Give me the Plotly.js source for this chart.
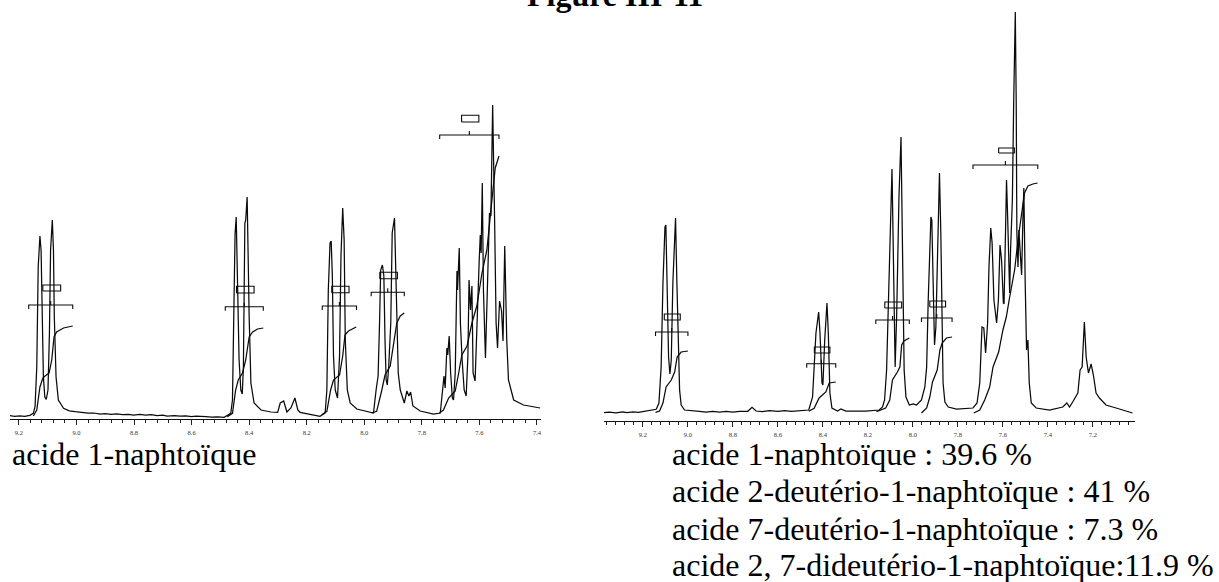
<!DOCTYPE html>
<html><head><meta charset="utf-8">
<script src="https://cdn.plot.ly/plotly-3.0.1.min.js"></script>
<style>html,body{margin:0;padding:0;background:#fff;overflow:hidden}#c{width:1219px;height:582px}</style>
</head><body><div id="c"></div>
<script>
// Left spectrum: chemical shift (ppm) and signal height
const leftShift=[9.231,9.215,9.197,9.180,9.162,9.150,9.144,9.138,9.133,9.127,9.123,9.119,9.115,9.110,9.105,9.099,9.094,9.090,9.084,9.080,9.077,9.071,9.063,9.045,9.025,9.005,8.98,8.96,8.94,8.917,8.90,8.88,8.86,8.84,8.82,8.801,8.78,8.76,8.74,8.72,8.70,8.685,8.66,8.64,8.62,8.60,8.585,8.569,8.55,8.53,8.51,8.487,8.464,8.458,8.452,8.449,8.445,8.441,8.435,8.429,8.424,8.420,8.415,8.412,8.407,8.400,8.394,8.383,8.359,8.324,8.301,8.292,8.280,8.269,8.255,8.241,8.231,8.223,8.188,8.154,8.136,8.130,8.125,8.119,8.115,8.111,8.107,8.101,8.093,8.086,8.081,8.075,8.070,8.066,8.059,8.049,8.026,7.991,7.968,7.959,7.952,7.947,7.943,7.937,7.932,7.928,7.924,7.920,7.915,7.908,7.903,7.895,7.892,7.887,7.882,7.875,7.861,7.852,7.845,7.839,7.831,7.806,7.759,7.736,7.729,7.723,7.719,7.713,7.710,7.705,7.700,7.694,7.690,7.684,7.678,7.676,7.670,7.666,7.660,7.653,7.646,7.640,7.636,7.631,7.626,7.622,7.615,7.609,7.604,7.601,7.597,7.594,7.590,7.586,7.579,7.572,7.565,7.560,7.554,7.547,7.542,7.537,7.530,7.523,7.518,7.512,7.505,7.499,7.481,7.447,7.389];
const leftSignal=[3.3,2.6,3,2.7,3.7,5.7,12.3,52,152,183,169,86,42,22,19.7,29,86,169,199,169,102,42,19,10.7,8.2,7.3,6.5,6,6,5,5.3,4.7,5,4.3,4.7,4,4.6,4,4.4,3.5,3.8,3,3.4,2.9,3.2,2.5,2.8,2.3,2.4,1.9,2.2,1.7,5.7,19,172,185,202,152,59,29,25,52,196,199,222,102,36,16,9,7,6.7,16,18,7,11,21,9,6.7,4.3,2.7,6,29,129,176,178,143,63,29,21,63,163,211,179,79,29,16,10,7.7,6,29,43,96,149,154,143,79,39,34,53,96,186,201,163,96,46,29,16,28,23,27,13,8,5,6,29,43,31,71,64,83,46,21,19,46,148,129,171,96,59,29,23,63,139,109,133,46,38,96,151,156,184,166,236,129,61,129,206,203,314,196,96,71,118,108,78,173,79,39,19,14,11];

// Left spectrum: integral curves
const leftIntegralShift=[
 [9.150,9.138,9.127,9.117,9.109,9.095,9.086,9.078,9.069,9.045,9.013],
 [8.476,8.458,8.447,8.438,8.423,8.412,8.400,8.388,8.371,8.351],
 [8.148,8.130,8.117,8.107,8.086,8.075,8.067,8.055,8.028],
 [7.974,7.957,7.939,7.928,7.910,7.899,7.887,7.875,7.861],
 [7.739,7.725,7.707,7.684,7.672,7.661,7.643,7.626,7.609,7.591,7.574,7.563,7.553,7.545,7.532]];
const leftIntegralValue=[
 [3,9,32,41,43,46,59,82,87,91,93],
 [2.3,5.7,29,39,46,59,82,87,90,91],
 [4.3,7.7,29,39,44,63,84,88,92],
 [6,7.7,29,44,53,76,96,103,106],
 [6,9,21,28,46,64,73,96,113,146,169,204,229,251,263]];

// Left spectrum: integral brackets and label boxes
const leftBracketFrom=[9.166,8.483,8.146,7.976,7.738];
const leftBracketTo=[9.013,8.351,8.027,7.861,7.532];
const leftBracketLevel=[114,112.3,113,126.7,284];
const leftBoxFrom=[9.117,8.444,8.113,7.946,7.662];
const leftBoxTo=[9.055,8.383,8.053,7.885,7.602];
const leftBoxLow=[128,126,126.3,140.3,297];
const leftBoxHigh=[134,132.7,132.7,146.7,303.7];

// Right spectrum: chemical shift (ppm) and signal height
const rightShift=[9.375,9.35,9.32,9.29,9.27,9.244,9.22,9.20,9.170,9.141,9.129,9.119,9.111,9.102,9.098,9.092,9.086,9.080,9.074,9.067,9.059,9.055,9.049,9.043,9.037,9.030,9.015,8.949,8.92,8.89,8.86,8.83,8.801,8.77,8.734,8.715,8.697,8.67,8.638,8.60,8.57,8.54,8.505,8.463,8.446,8.431,8.419,8.413,8.404,8.400,8.392,8.382,8.376,8.369,8.360,8.335,8.320,8.298,8.209,8.150,8.135,8.126,8.117,8.102,8.093,8.084,8.079,8.072,8.062,8.053,8.044,8.039,8.031,8.016,7.999,7.984,7.962,7.947,7.939,7.932,7.920,7.916,7.910,7.904,7.898,7.892,7.886,7.882,7.876,7.870,7.866,7.858,7.843,7.806,7.733,7.715,7.703,7.693,7.685,7.677,7.668,7.662,7.654,7.648,7.640,7.628,7.620,7.613,7.606,7.598,7.595,7.588,7.584,7.579,7.570,7.566,7.563,7.558,7.552,7.545,7.541,7.538,7.533,7.529,7.523,7.517,7.511,7.507,7.501,7.495,7.489,7.483,7.474,7.452,7.393,7.334,7.316,7.304,7.290,7.267,7.257,7.248,7.238,7.230,7.220,7.208,7.198,7.186,7.171,7.142,7.097,7.024];
const rightSignal=[8.3,8.8,8.2,9,8.5,9,8.6,9.4,10.3,11.7,17.7,54,138,194,196,138,64,47,61,138,198,203,138,78,31,16,11,9.7,9,9.6,9,9.6,9,9.6,9.7,13.7,10,9.5,10.4,9.6,10.3,9.7,10.4,11,24,88,109,88,38,36,81,118,88,28,13,10,12,10,10,11,14,21,51,191,252,124,54,108,224,284,124,51,24,16,17,16,21,34,54,121,204,201,138,76,94,154,214,248,188,88,38,19,14,12,13,18,38,94,93,68,98,154,193,178,121,98,121,176,161,118,117,194,241,204,128,171,203,221,321,409,321,188,154,191,168,146,204,233,138,71,81,38,18,13,11,14,18,14,19,28,51,54,99,64,48,57,46,28,23,16,13,8];

// Right spectrum: integral curves
const rightIntegralShift=[
 [9.144,9.126,9.111,9.097,9.074,9.059,9.048,9.030,9.000],
 [8.463,8.439,8.417,8.387,8.372,8.343],
 [8.162,8.121,8.103,8.091,8.069,8.058,8.050,8.040,8.016],
 [7.962,7.939,7.925,7.913,7.892,7.880,7.870,7.851,7.826],
 [7.730,7.703,7.681,7.659,7.644,7.619,7.600,7.585,7.570,7.548,7.533,7.518,7.504,7.489,7.467,7.446]];
const rightIntegralValue=[
 [8.7,10,18,34,41,49,64,69,70],
 [9.7,12.7,23,29,38,39],
 [9.3,13,21,41,49,54,76,80,83],
 [8,13,24,39,51,71,78,83,84],
 [8,11,21,34,54,69,91,104,124,151,181,204,228,235,237,238]];

// Right spectrum: integral brackets and label boxes
const rightBracketFrom=[9.144,8.472,8.165,7.962,7.733];
const rightBracketTo=[9.000,8.343,8.016,7.826,7.445];
const rightBracketLevel=[89,57.3,101,103,256];
const rightBoxFrom=[9.105,8.438,8.125,7.925,7.619];
const rightBoxTo=[9.034,8.369,8.050,7.855,7.549];
const rightBoxLow=[101,68,113,114,268];
const rightBoxHigh=[107,74,119,120,273];

// Text
const figureTitle="Figure III-11";
const leftCaption=["acide 1-naphtoïque"];
const rightCaption=["acide 1-naphtoïque : 39.6 %","acide 2-deutério-1-naphtoïque : 41 %","acide 7-deutério-1-naphtoïque : 7.3 %","acide 2, 7-dideutério-1-naphtoïque:11.9 %"];

const W=1219,H=582,SERIF="'Liberation Serif','Times New Roman',serif";
const ink='#0a0a0a';
const line=(x,y,xa,ya,w)=>({type:'scatter',mode:'lines',x,y,xaxis:xa,yaxis:ya,hoverinfo:'skip',
  line:{color:ink,width:w||1,shape:'linear'},showlegend:false});
const traces=[];
function panel(shift,signal,iS,iV,bF,bT,bL,xF,xT,lo,hi,xa,ya){
  traces.push(line(shift,signal,xa,ya,1.25));
  iS.forEach((s,i)=>traces.push(line(s,iV[i],xa,ya,1.25)));
  bF.forEach((f,i)=>{
    const t=bT[i],l=bL[i],m=(f+t)/2;
    traces.push(line([f,f,t,t],[l-4,l,l,l-4],xa,ya,1.1));
    traces.push(line([m,m],[l,l+4],xa,ya,1.1));
    traces.push(line([xF[i],xT[i],xT[i],xF[i],xF[i]],[lo[i],lo[i],hi[i],hi[i],lo[i]],xa,ya,1.1));
  });
}
panel(leftShift,leftSignal,leftIntegralShift,leftIntegralValue,leftBracketFrom,leftBracketTo,leftBracketLevel,leftBoxFrom,leftBoxTo,leftBoxLow,leftBoxHigh,'x','y');
panel(rightShift,rightSignal,rightIntegralShift,rightIntegralValue,rightBracketFrom,rightBracketTo,rightBracketLevel,rightBoxFrom,rightBoxTo,rightBoxLow,rightBoxHigh,'x2','y2');

const xAxis=(dom,range,yname)=>({domain:[dom[0]/W,dom[1]/W],range,anchor:yname,autorange:false,
  showgrid:false,zeroline:false,showline:true,linecolor:'#111',linewidth:1,
  ticks:'outside',ticklen:5,tickwidth:1,tickcolor:'#222',tick0:7.4,dtick:0.2,tickformat:'.1f',
  ticklabelstandoff:2,tickfont:{family:SERIF,size:6.5,color:'#333'},
  minor:{ticks:'outside',ticklen:3,tickwidth:1,tickcolor:'#222',tick0:7.4,dtick:0.04,showgrid:false}});
const yAxis=(base,xname)=>({domain:[(H-base)/H,1],range:[0,base],anchor:xname,visible:false,fixedrange:true});

const caption=(text,x,y,size)=>({text,xref:'paper',yref:'paper',x:x/W,y:1-y/H,xanchor:'left',yanchor:'bottom',
  showarrow:false,align:'left',borderpad:0,font:{family:SERIF,size:size||32,color:'#000'}});
const annotations=[];
leftCaption.forEach(t=>annotations.push(caption(t,11,473)));
rightCaption.forEach((t,i)=>annotations.push(caption(t,671,[473,510,548,584][i])));
annotations.push({text:'<b>'+figureTitle+'</b>',xref:'paper',yref:'paper',x:615/W,y:1-14/H,xanchor:'center',yanchor:'bottom',
  showarrow:false,borderpad:0,font:{family:SERIF,size:32,color:'#000'}});

Plotly.newPlot('c',traces,{
  width:W,height:H,margin:{l:0,r:0,t:0,b:0},paper_bgcolor:'#fff',plot_bgcolor:'#fff',showlegend:false,
  xaxis:xAxis([10,541],[9.231,7.386],'y'),yaxis:yAxis(419,'x'),
  xaxis2:xAxis([604,1135],[9.373,7.013],'y2'),yaxis2:yAxis(421,'x2'),
  annotations
},{displayModeBar:false,staticPlot:true});
</script></body></html>
